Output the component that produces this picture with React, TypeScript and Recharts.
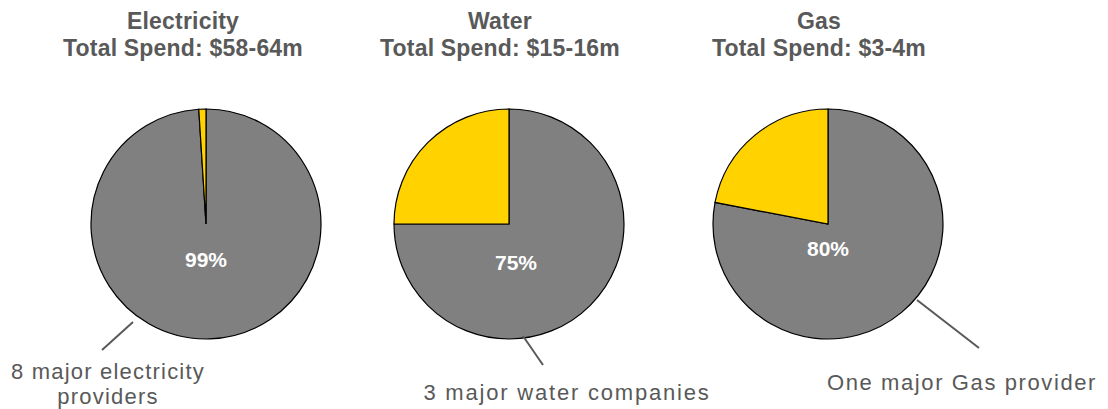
import React from 'react';
import { PieChart, Pie, Cell } from 'recharts';

const categories = ['Electricity', 'Water', 'Gas'];
const spendRanges = ['$58-64m', '$15-16m', '$3-4m'];
const majorShare = [99, 75, 78];
const otherShare = [1, 25, 22];
const shareLabels = ['99%', '75%', '80%'];
const providerLabels = [['8 major electricity', 'providers'], ['3 major water companies'], ['One major Gas provider']];

const GRAY = '#808080';
const YELLOW = '#FFD200';
const TEXT = '#595959';

// layout (pixels)
const W = 1108;
const H = 409;
const centersX = [206, 509, 828];
const centerY = 224;
const radius = 115;
const titleX = [183, 500, 819];
const pctOffset = [[0, 35], [7, 38], [0, 24]];
const leader = [
  [[-73, 98], [-104, 126]],
  [[14, 112], [34, 141]],
  [[89, 76], [151, 124]],
];
const providerPos = [[108, 379], [567, 400], [962, 390]];
const providerSpacing = [1.2, 1.8, 1.6];

const makeLabel = (i: number) => (props: any) => {
  if (props.index !== 0) return null;
  const { cx, cy } = props;
  const [[x1, y1], [x2, y2]] = leader[i];
  const lines = providerLabels[i];
  return (
    <g>
      <text
        x={cx + pctOffset[i][0]}
        y={cy + pctOffset[i][1]}
        textAnchor="middle"
        dominantBaseline="central"
        fill="#FFFFFF"
        fontWeight="bold"
        fontSize={21}
        fontFamily="'Liberation Sans', Arial, sans-serif"
      >
        {shareLabels[i]}
      </text>
      <line x1={cx + x1} y1={cy + y1} x2={cx + x2} y2={cy + y2} stroke={TEXT} strokeWidth={2} />
      <text
        x={providerPos[i][0]}
        y={providerPos[i][1]}
        textAnchor="middle"
        fill={TEXT}
        fontSize={22}
        letterSpacing={providerSpacing[i]}
        fontFamily="'Liberation Sans', Arial, sans-serif"
      >
        {lines.map((l, k) => (
          <tspan key={k} x={providerPos[i][0]} dy={k === 0 ? 0 : 25}>
            {l}
          </tspan>
        ))}
      </text>
    </g>
  );
};

export default function App() {
  return (
    <div style={{ position: 'absolute', left: 0, top: 0, width: W, height: H, background: '#fff' }}>
      <PieChart width={W} height={H} margin={{ top: 0, right: 0, bottom: 0, left: 0 }}>
        {categories.map((c, i) => (
          <Pie
            key={c}
            data={[
              { name: 'Major', value: majorShare[i] },
              { name: 'Other', value: otherShare[i] },
            ]}
            dataKey="value"
            nameKey="name"
            cx={centersX[i]}
            cy={centerY}
            outerRadius={radius}
            startAngle={90}
            endAngle={-270}
            stroke="#000"
            strokeWidth={1.2}
            isAnimationActive={false}
            label={makeLabel(i)}
            labelLine={false}
          >
            <Cell fill={GRAY} />
            <Cell fill={YELLOW} />
          </Pie>
        ))}
      </PieChart>
      {categories.map((c, i) => (
        <div
          key={c}
          style={{
            position: 'absolute',
            left: titleX[i] - 200,
            top: 8,
            width: 400,
            textAlign: 'center',
            color: TEXT,
            fontFamily: "'Liberation Sans', Arial, sans-serif",
            fontWeight: 'bold',
            fontSize: 23,
            lineHeight: '27px',
            letterSpacing: 0.2,
          }}
        >
          <div>{c}</div>
          <div>Total Spend: {spendRanges[i]}</div>
        </div>
      ))}
    </div>
  );
}
